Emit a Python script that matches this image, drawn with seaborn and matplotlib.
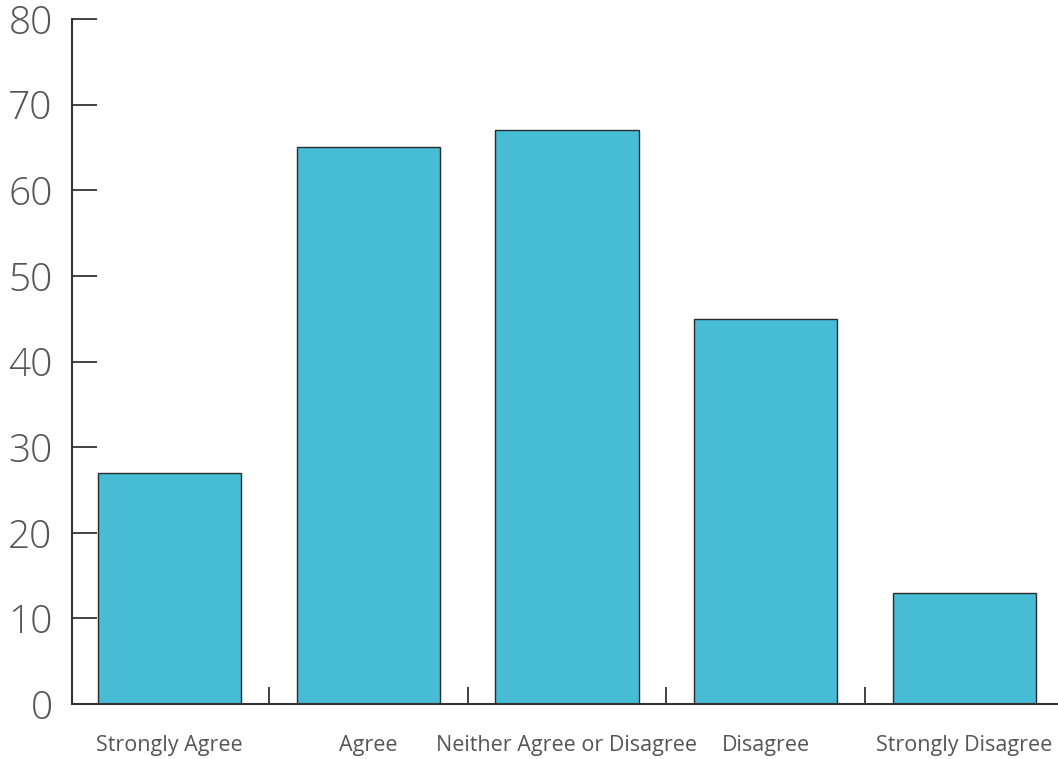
import matplotlib
matplotlib.use("Agg")
import matplotlib.pyplot as plt
import seaborn as sns
import pandas as pd
from matplotlib.ticker import FixedLocator

# ============================
# DATA
# ============================
categories = [
    "Strongly Agree",
    "Agree",
    "Neither Agree or Disagree",
    "Disagree",
    "Strongly Disagree",
]
responses = [27, 65, 67, 45, 13]

df = pd.DataFrame({"category": categories, "count": responses})

# ============================
# PLOT
# ============================
sns.set_style("white")
plt.rcParams["font.family"] = ["Open Sans", "DejaVu Sans"]

fig = plt.figure(figsize=(10.58, 7.59), dpi=100)
ax = fig.add_axes([72 / 1058, 55 / 759, 1 - 72 / 1058, 685 / 759])

sns.barplot(
    data=df, x="category", y="count", ax=ax,
    color="#46bcd5", saturation=1, width=0.72,
    edgecolor="#2b2b2b", linewidth=1,
)

ax.set_ylim(0, 80)
ax.set_xlim(-0.49, 4.47)
ax.set_yticks(range(0, 81, 10))
ax.set_xlabel("")
ax.set_ylabel("")

sns.despine(ax=ax)
for side in ["left", "bottom"]:
    ax.spines[side].set_color("#333333")
    ax.spines[side].set_linewidth(1.5)

ax.tick_params(axis="y", left=True, direction="in", length=18, width=1.3,
               color="#333333", labelsize=28, labelcolor="#555555", pad=14)
ax.tick_params(axis="x", which="major", bottom=True, length=0, labelsize=15.5,
               labelcolor="#555555", pad=22)
ax.xaxis.set_minor_locator(FixedLocator([0.5, 1.5, 2.5, 3.5]))
ax.tick_params(axis="x", which="minor", bottom=True, direction="in", length=12,
               width=1.3, color="#333333")
for lab in ax.get_yticklabels():
    lab.set_fontweight("light")

fig.savefig("out.png", dpi=100)
